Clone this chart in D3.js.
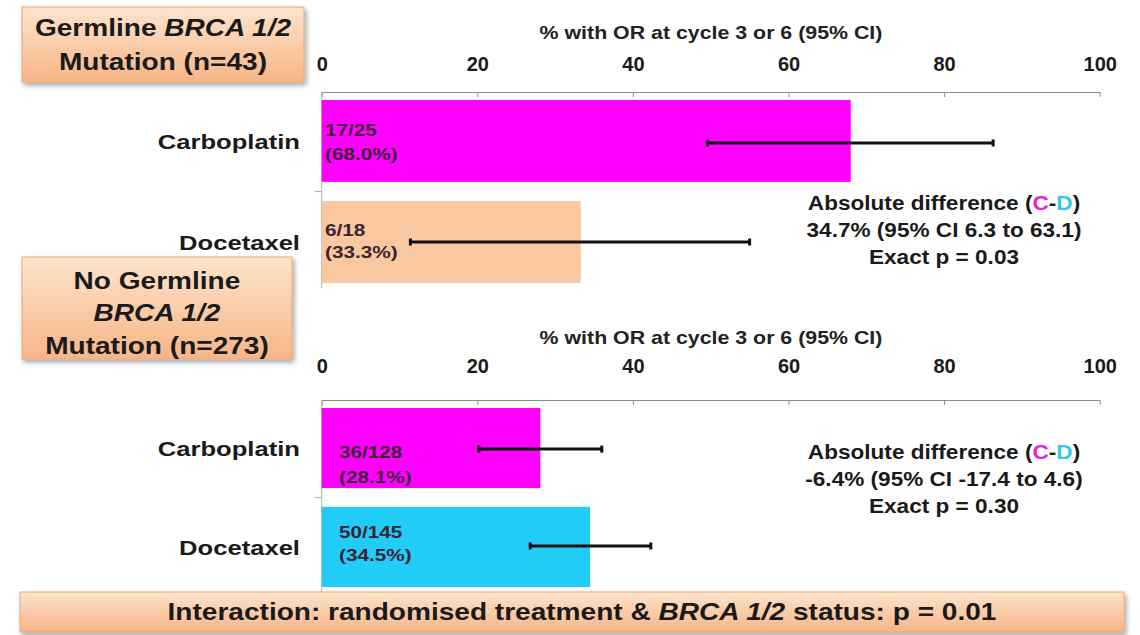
<!DOCTYPE html>
<html>
<head>
<meta charset="utf-8">
<script src="https://cdn.jsdelivr.net/npm/d3@7"></script>
<style>
  html, body { margin: 0; padding: 0; background: #ffffff; }
  svg { display: block; font-family: "Liberation Sans", Arial, sans-serif; }
</style>
</head>
<body>
<svg id="chart" width="1140" height="635"></svg>
<script>
// Objective response by treatment, split by germline BRCA 1/2 status
const treatments = ["Carboplatin", "Docetaxel"];
const responders = [[17, 6], [36, 50]];
const totals = [[25, 18], [128, 145]];
const percents = [[68.0, 33.3], [28.1, 34.5]];
const ciLow = [[49.6, 11.4], [20.2, 26.8]];
const ciHigh = [[86.3, 55.0], [36.0, 42.3]];
const tickValues = [0, 20, 40, 60, 80, 100];
const axisTitle = "% with OR at cycle 3 or 6 (95% CI)";
const diffLines = [
  ["34.7% (95% CI 6.3 to 63.1)", "Exact p = 0.03"],
  ["-6.4% (95% CI -17.4 to 4.6)", "Exact p = 0.30"]
];
const groupLabels = [
  [[["Germline ", false], ["BRCA 1/2", true]], [["Mutation (n=43)", false]]],
  [[["No Germline", false]], [["BRCA 1/2", true]], [["Mutation (n=273)", false]]]
];
const interactionText = [["Interaction: randomised treatment & ", false], ["BRCA 1/2", true], [" status: p = 0.01", false]];

const barColors = [["#ff00ff", "#f9c8a0"], ["#ff00ff", "#21cdf7"]];

// wide bold lettering: stretch text horizontally about its anchor point
const SX = 1.22;
function widen(sel, sx = SX) {
  sel.each(function () {
    const ax = +this.getAttribute("x") || 0;
    this.setAttribute("transform", `translate(${ax * (1 - sx)},0) scale(${sx},1)`);
  });
  return sel;
}

const svg = d3.select("#chart");

// shared defs: box gradient + soft shadow
const defs = svg.append("defs");
const grad = defs.append("linearGradient").attr("id", "boxFill")
  .attr("x1", 0).attr("y1", 0).attr("x2", 0).attr("y2", 1);
grad.append("stop").attr("offset", "0%").attr("stop-color", "#fde4cd");
grad.append("stop").attr("offset", "100%").attr("stop-color", "#f7b586");
const shadow = defs.append("filter").attr("id", "shadow")
  .attr("x", "-10%").attr("y", "-20%").attr("width", "130%").attr("height", "160%");
shadow.append("feDropShadow").attr("dx", 2).attr("dy", 3).attr("stdDeviation", 2.5)
  .attr("flood-color", "#000").attr("flood-opacity", 0.35);

const x = d3.scaleLinear().domain([0, 100]).range([321.7, 1099.7]);

const panels = [
  { axisY: 92, titleY: 39, tickPad: 16, band: [100, 283], labelX: 325,
    labelDy: [[-11, 13], [-12, 10]], errDy: [2, 0], annY: 210 },
  { axisY: 400, titleY: 344, tickPad: 22, band: [408, 587], labelX: 339,
    labelDy: [[4, 29], [-15, 8]], errDy: [1, -1], annY: 459 }
];
const annX = 944;
const annSX = 1.13;

panels.forEach((p, gi) => {
  const y = d3.scaleBand().domain(treatments).range(p.band).paddingInner(0.19);
  const g = svg.append("g");

  // axis title
  widen(g.append("text").attr("x", 711).attr("y", p.titleY)
    .attr("text-anchor", "middle").attr("font-size", 17.5).attr("font-weight", "bold")
    .attr("fill", "#222").text(axisTitle));

  // value axis along the top of the panel
  const ax = g.append("g").attr("transform", `translate(0,${p.axisY})`)
    .call(d3.axisTop(x).tickValues(tickValues).tickSize(5).tickPadding(p.tickPad).tickSizeOuter(0));
  ax.select(".domain").attr("stroke", "#8c8c8c");
  ax.selectAll(".tick line").attr("stroke", "#8c8c8c").attr("y2", 5);
  ax.selectAll(".tick text").attr("font-size", 20).attr("font-weight", "bold")
    .attr("fill", "#1a1a1a").attr("font-family", "Liberation Sans, Arial, sans-serif");

  // category axis
  const gap = (y(treatments[0]) + y.bandwidth() + y(treatments[1])) / 2;
  g.append("line").attr("x1", x(0)).attr("x2", x(0))
    .attr("y1", p.axisY).attr("y2", p.band[1] + 5).attr("stroke", "#b0b0b0");
  g.append("line").attr("x1", x(0) - 7).attr("x2", x(0))
    .attr("y1", gap).attr("y2", gap).attr("stroke", "#b0b0b0");

  treatments.forEach((t, ti) => {
    const yc = y(t) + y.bandwidth() / 2;
    // category label
    widen(g.append("text").attr("x", 300).attr("y", yc + 8).attr("text-anchor", "end")
      .attr("font-size", 21).attr("font-weight", "bold").attr("fill", "#1a1a1a").text(t));
    // bar
    g.append("rect").attr("x", x(0)).attr("y", y(t))
      .attr("width", x(percents[gi][ti]) - x(0)).attr("height", y.bandwidth())
      .attr("fill", barColors[gi][ti]);
    // count and percentage
    const [d1, d2] = p.labelDy[ti];
    widen(g.append("text").attr("x", p.labelX).attr("y", yc + d1 + 6)
      .attr("font-size", 17).attr("font-weight", "bold").attr("fill", "#3a2233")
      .text(`${responders[gi][ti]}/${totals[gi][ti]}`));
    widen(g.append("text").attr("x", p.labelX).attr("y", yc + d2 + 6)
      .attr("font-size", 17).attr("font-weight", "bold").attr("fill", "#3a2233")
      .text(`(${percents[gi][ti].toFixed(1)}%)`));
    // 95% confidence interval
    const ey = yc + p.errDy[ti];
    g.append("line").attr("x1", x(ciLow[gi][ti])).attr("x2", x(ciHigh[gi][ti]))
      .attr("y1", ey).attr("y2", ey).attr("stroke", "#111").attr("stroke-width", 3);
    [ciLow[gi][ti], ciHigh[gi][ti]].forEach(v => {
      g.append("line").attr("x1", x(v)).attr("x2", x(v))
        .attr("y1", ey - 3.5).attr("y2", ey + 3.5).attr("stroke", "#111").attr("stroke-width", 3);
    });
  });

  // absolute difference annotation
  const ann = g.append("text").attr("x", annX).attr("y", p.annY).attr("text-anchor", "middle")
    .attr("font-size", 20).attr("font-weight", "bold").attr("fill", "#1a1a1a");
  ann.append("tspan").text("Absolute difference (");
  ann.append("tspan").attr("fill", "#e21fe2").text("C");
  ann.append("tspan").text("-");
  ann.append("tspan").attr("fill", "#35c6ee").text("D");
  ann.append("tspan").text(")");
  widen(ann, annSX);
  diffLines[gi].forEach((line, li) => {
    widen(g.append("text").attr("x", annX).attr("y", p.annY + 27 * (li + 1))
      .attr("text-anchor", "middle").attr("font-size", 20).attr("font-weight", "bold")
      .attr("fill", "#1a1a1a").text(line), annSX);
  });
});

// group label boxes
function labelBox(bx, by, bw, bh, lines, centers) {
  const g = svg.append("g");
  g.append("rect").attr("x", bx).attr("y", by).attr("width", bw).attr("height", bh)
    .attr("fill", "url(#boxFill)").attr("stroke", "#eaa877").attr("stroke-width", 1)
    .attr("filter", "url(#shadow)");
  const cx = bx + bw / 2;
  lines.forEach((parts, i) => {
    const t = g.append("text").attr("x", cx).attr("y", centers[i] + 8)
      .attr("text-anchor", "middle").attr("font-size", 23).attr("font-weight", "bold")
      .attr("fill", "#1a1a1a");
    parts.forEach(([s, it]) => t.append("tspan").attr("font-style", it ? "italic" : "normal").text(s));
    widen(t);
  });
}

labelBox(22, 7, 282, 75, groupLabels[0], [28, 62]);
labelBox(22, 257, 270, 102, groupLabels[1], [281, 313, 346]);

// interaction banner
{
  const g = svg.append("g");
  g.append("rect").attr("x", 20).attr("y", 592).attr("width", 1104).attr("height", 40)
    .attr("fill", "url(#boxFill)").attr("stroke", "#eaa877").attr("filter", "url(#shadow)");
  const t = g.append("text").attr("x", 582).attr("y", 620).attr("text-anchor", "middle")
    .attr("font-size", 23).attr("font-weight", "bold").attr("fill", "#1a1a1a");
  interactionText.forEach(([s, it]) => t.append("tspan").attr("font-style", it ? "italic" : "normal").text(s));
  widen(t);
}
</script>
</body>
</html>
